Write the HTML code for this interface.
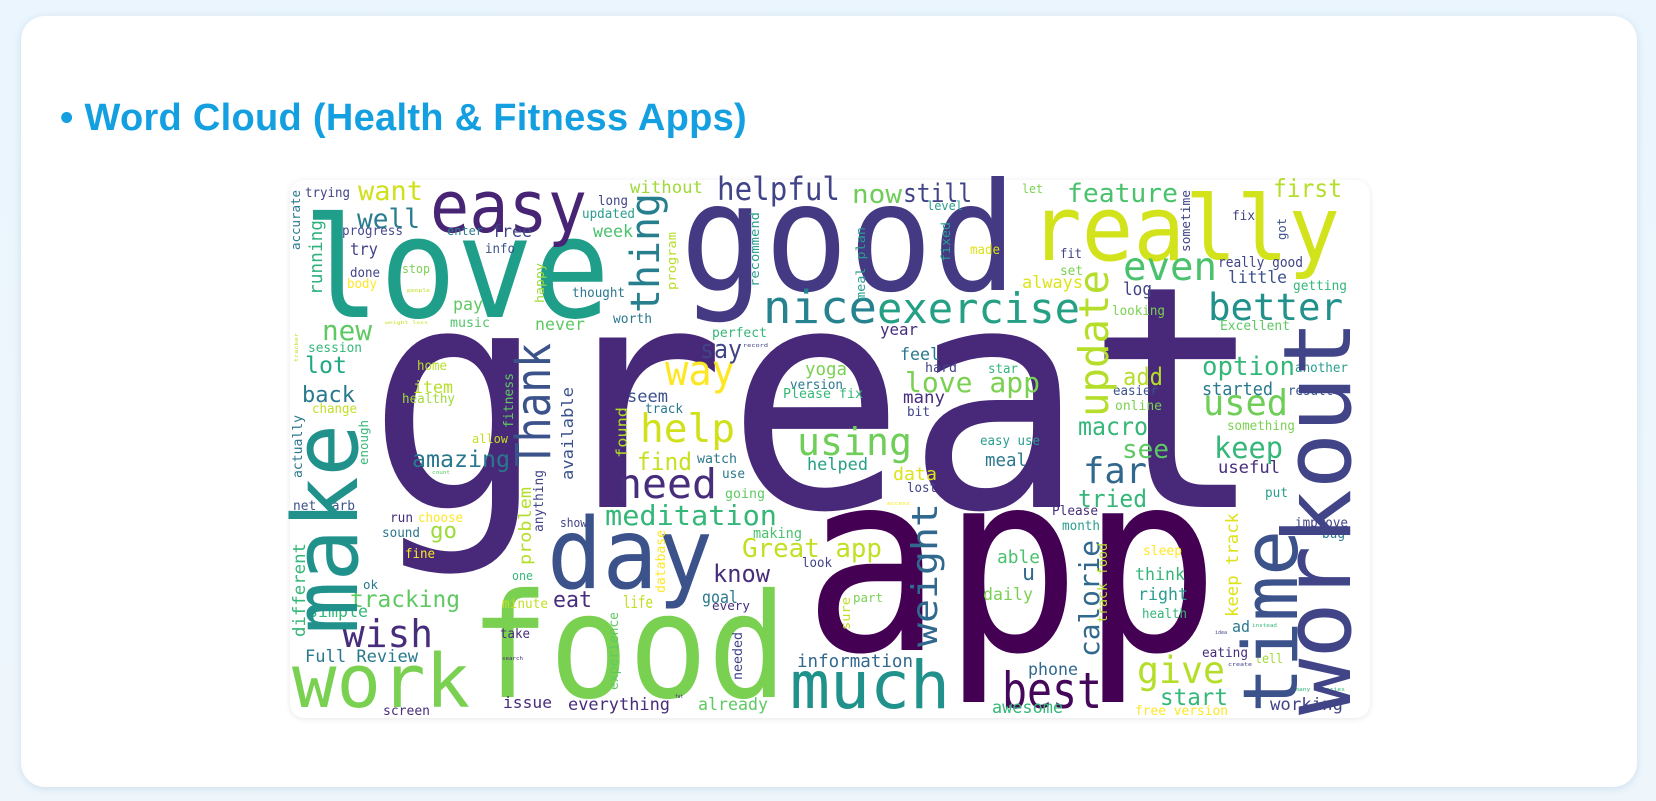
<!DOCTYPE html>
<html><head><meta charset="utf-8"><title>Word Cloud</title>
<style>
html,body{margin:0;padding:0;}
body{width:1656px;height:801px;overflow:hidden;background:linear-gradient(180deg,#eaf5fd 0%,#eef6fc 100%);font-family:"Liberation Sans",sans-serif;position:relative;}
.card{position:absolute;left:21px;top:16px;width:1616px;height:771px;background:#fff;border-radius:24px;box-shadow:0 2px 8px rgba(80,120,160,0.18);}
.title{position:absolute;left:60px;top:97px;font-size:38px;font-weight:bold;color:#14a0e0;white-space:nowrap;letter-spacing:0.3px;}
.wc{position:absolute;left:290px;top:180px;width:1080px;height:538px;background:#fff;border-radius:14px;box-shadow:0 1px 6px rgba(0,0,0,0.10);}
svg{position:absolute;left:0;top:0;}
</style></head>
<body>
<div class="card"></div>
<div class="title">• Word Cloud (Health &amp; Fitness Apps)</div>
<div class="wc"></div>
<svg id="cloud" width="1656" height="801" viewBox="0 0 1656 801"></svg>
<script>
// word, font size (weight)
const words = [
["great",310],["app",250],["love",140],["good",150],["really",90],["easy",72],["food",145],["work",74],["much",66],["day",98],["best",50],
["nice",45],["exercise",42],["helpful",32],["now",26],["still",26],["feature",26],["first",25],["even",39],["better",37],["option",26],["add",24],
["love app",28],["used",36],["macro",25],["started",18],["little",17],["always",17],["really good",14],["log",18],["see",26],["keep",29],["far",36],
["tried",24],["useful",17],["put",13],["Please",13],["month",13],["improve",13],["bug",13],["sleep",13],["think",17],["right",17],["health",13],
["ad",16],["instead",5],["idea",5],["eating",13],["tell",13],["create",5],["many calories",5],["give",37],["start",23],["free version",13],["working",17],
["awesome",17],["phone",17],["daily",17],["u",22],["able",18],["part",12],["information",18],
["amazing",23],["net carb",13],["run",13],["choose",13],["sound",13],["go",22],["fine",13],["one",12],["ok",12],["tracking",23],["simple",17],["eat",22],
["minute",13],["life",17],["goal",17],["every",12],["know",24],["wish",38],["take",13],["Full Review",17],["search",5],["issue",16],["everything",17],
["already",17],["screen",13],["fat",5],["count",5],["Great app",26],["meditation",28],["need",41],
["want",27],["well",27],["trying",13],["progress",13],["enter",12],["free",17],["info",13],["try",17],["done",13],["stop",12],["body",13],["people",5],
["thought",13],["pay",17],["new",28],["music",13],["weight loss",4],["never",17],["worth",13],["session",13],["lot",23],["back",22],["home",13],["item",17],
["healthy",13],["change",13],["allow",12],["long",13],["without",17],["updated",13],["week",17],["level",12],["let",12],["fix",13],["made",13],["fit",13],
["set",13],["getting",13],["looking",13],["Excellent",13],["another",13],["easier",13],["result",13],["online",13],["something",13],
["way",42],["say",26],["help",39],["find",24],["using",38],["helped",17],["yoga",18],["version",13],["Please fix",13],["feel",17],["year",16],["hard",13],
["star",13],["many",17],["bit",13],["easy use",13],["meal",18],["data",18],["lost",13],["access",5],["watch",13],["use",13],["going",13],["making",14],
["look",13],["show",12],["seem",17],["track",13],["perfect",13],["record",5],
["workout",94],["time",76],["make",90],["Thank",48],["thing",40],["update",41],["weight",36],["calorie",28],["running",18],["accurate",12],["happy",12],
["program",12],["recommend",12],["fitness",13],["found",15],["available",16],["actually",13],["enough",12],["fixed",12],["meal plan",12],["sometime",12],
["got",12],["tracker",5],["problem",17],["anything",13],["database",13],["experience",13],["needed",13],["sure",12],["track food",13],["keep track",17],["different",17]
];
// color per word (same order)
const colors = [
"#482878","#440154","#1f9e89","#443983","#d2e21b","#482475","#7ad151","#7ad151","#21918c","#3b528b","#45075a",
"#26828e","#25a085","#414487","#6ece58","#414487","#4ac16d","#b5de2b","#4ac16d","#21918c","#35b779","#b5de2b",
"#7ad151","#6ece58","#35b779","#2a788e","#3b528b","#dde318","#414487","#414487","#5ec962","#35b779","#31688e",
"#35b779","#472d7b","#2a9d8f","#472d7b","#2a9d8f","#414487","#2a788e","#fde725","#35b779","#2a9d8f","#35b779",
"#2a788e","#35b779","#414487","#472d7b","#a0da39","#414487","#35b779","#b5de2b","#35b779","#fde725","#414487",
"#35b779","#31688e","#7ad151","#31688e","#4ac16d","#7ad151","#31688e",
"#2a788e","#3b528b","#472d7b","#fde725","#2a788e","#a0da39","#fde725","#35b779","#2a788e","#5ec962","#35b779","#472d7b",
"#c2df23","#c2df23","#2a788e","#472d7b","#472d7b","#472d7b","#472d7b","#2a788e","#472d7b","#472d7b","#472d7b",
"#5ec962","#472d7b","#472d7b","#5ec962","#c2df23","#35b779","#472d7b",
"#d0e11c","#287d8e","#414487","#4a4a90","#2a788e","#414487","#3b528b","#414487","#414487","#7ad151","#fde725","#c2df23",
"#2a788e","#5ec962","#5ec962","#52c569","#c8e020","#5ec962","#2a788e","#35b779","#22a884","#2a788e","#b8de29","#b8de29",
"#a0da39","#c2df23","#c2df23","#414487","#a0da39","#2a9d8f","#4ac16d","#2a9d8f","#7ad151","#414487","#dde318","#414487",
"#7ad151","#35b779","#7ad151","#5ec962","#2a9d8f","#3b528b","#3b528b","#7ad151","#7ad151",
"#fde725","#414487","#d0e11c","#c8e020","#6ece58","#25a085","#7ad151","#2a788e","#35b779","#2a788e","#472d7b","#414487",
"#35b779","#472d7b","#414487","#2a9d8f","#2a788e","#dde318","#414487","#fde725","#2a788e","#2a788e","#5ec962","#4ac16d",
"#414487","#414487","#3b528b","#2a788e","#35b779","#414487",
"#414487","#3b528b","#21918c","#3b528b","#277f8e","#b5de2b","#31688e","#31688e","#2db27d","#2a788e","#a0da39",
"#b8de29","#2a9d8f","#5ec962","#b5de2b","#3b528b","#2a788e","#35b779","#2a9d8f","#2a9d8f","#414487",
"#3b528b","#c2df23","#b5de2b","#414487","#fde725","#5ec962","#414487","#c2df23","#b5de2b","#dde318","#35b779"
];
// layout per word: [x, baseline y, text length, rotation]
const layout = [
[367,507,898,0],[803,650,417,0],[303,317,307,0],[680,290,337,0],[1030,260,310,0],[430,232,157,0],[470,697,317,0],[292,707,178,0],[790,708,160,0],[547,588,166,0],[1002,708,100,0],
[763,323,114,0],[877,323,203,0],[717,200,123,0],[852,203,50,0],[903,202,69,0],[1067,202,111,0],[1273,197,69,0],[1123,280,94,0],[1208,320,135,0],[1202,375,93,0],[1123,385,40,0],
[905,392,135,0],[1203,415,85,0],[1078,435,70,0],[1202,395,71,0],[1228,283,59,0],[1022,288,61,0],[1218,267,85,0],[1123,295,29,0],[1122,458,47,0],[1214,458,69,0],[1083,483,64,0],
[1078,507,69,0],[1218,473,62,0],[1265,497,23,0],[1052,515,46,0],[1062,530,38,0],[1295,527,53,0],[1322,538,23,0],[1143,555,39,0],[1135,580,50,0],[1138,600,50,0],[1142,618,45,0],
[1232,632,18,0],[1252,627,25,0],[1215,634,12,0],[1202,657,46,0],[1255,663,28,0],[1228,666,24,0],[1295,691,50,0],[1137,683,88,0],[1160,705,68,0],[1135,715,93,0],[1270,710,73,0],
[992,713,71,0],[1028,675,50,0],[983,600,50,0],[1022,580,13,0],[997,563,43,0],[853,602,30,0],[797,667,116,0],
[412,467,98,0],[293,510,62,0],[390,522,23,0],[418,522,45,0],[382,537,38,0],[430,538,27,0],[405,558,30,0],[512,580,21,0],[363,589,15,0],[350,607,110,0],[308,617,60,0],[553,607,39,0],
[502,608,46,0],[623,608,30,0],[702,603,36,0],[712,610,38,0],[713,582,57,0],[342,647,91,0],[500,638,30,0],[305,662,113,0],[502,660,21,0],[503,708,49,0],[568,710,102,0],
[698,710,70,0],[383,715,47,0],[675,698,8,0],[432,474,18,0],[742,557,140,0],[605,525,172,0],[617,498,100,0],
[358,200,65,0],[357,228,63,0],[305,197,45,0],[342,235,61,0],[447,235,36,0],[492,237,40,0],[485,253,30,0],[350,255,28,0],[350,277,30,0],[402,273,28,0],[347,288,30,0],[407,292,23,0],
[572,297,53,0],[453,310,30,0],[322,340,50,0],[450,327,40,0],[385,324,43,0],[535,330,50,0],[613,323,39,0],[308,352,54,0],[305,373,42,0],[302,402,53,0],[417,370,30,0],[413,393,40,0],
[402,403,53,0],[312,413,45,0],[472,443,36,0],[598,205,30,0],[630,193,73,0],[582,218,53,0],[593,237,40,0],[927,210,36,0],[1022,193,21,0],[1232,220,23,0],[970,254,30,0],[1060,258,22,0],
[1060,275,23,0],[1293,290,54,0],[1112,315,53,0],[1220,330,70,0],[1295,372,53,0],[1113,395,45,0],[1288,395,45,0],[1115,410,47,0],[1227,430,68,0],
[665,385,70,0],[700,358,42,0],[640,442,95,0],[637,470,55,0],[797,455,115,0],[807,470,61,0],[805,375,42,0],[790,389,53,0],[783,398,80,0],[900,360,40,0],[880,335,38,0],[925,372,32,0],
[988,373,30,0],[903,403,42,0],[907,416,23,0],[980,445,60,0],[985,466,42,0],[893,480,44,0],[907,492,30,0],[887,505,23,0],[697,463,40,0],[722,478,23,0],[725,498,40,0],[753,538,49,0],
[802,567,30,0],[560,527,27,0],[627,402,41,0],[645,413,38,0],[712,337,55,0],[743,347,25,0],
[1350,715,395,1],[1297,713,183,1],[357,634,210,1],[550,467,124,1],[659,313,120,1],[1108,417,147,1],[937,647,144,1],[1099,657,117,1],[322,295,75,1],[300,250,60,1],[544,303,40,1],
[676,290,58,1],[759,287,75,1],[513,428,55,1],[627,458,51,1],[573,480,93,1],[302,478,63,1],[368,465,45,1],[950,262,40,1],[865,300,73,1],[1190,252,62,1],
[1286,240,22,1],[298,362,29,1],[531,565,78,1],[543,532,62,1],[665,593,63,1],[618,690,78,1],[742,680,48,1],[850,630,33,1],[1107,623,80,1],[1238,617,104,1],[305,637,94,1]
];
const svg = document.getElementById('cloud');
const NS = 'http://www.w3.org/2000/svg';
const n = Math.min(words.length, colors.length, layout.length);
for (let i = 0; i < n; i++) {
  const [txt, size] = words[i];
  const [x, y, len, rot] = layout[i];
  const t = document.createElementNS(NS, 'text');
  t.textContent = txt;
  t.setAttribute('font-family', '"DejaVu Sans Mono", "Liberation Mono", monospace');
  t.setAttribute('font-size', size);
  t.setAttribute('fill', colors[i]);
  t.setAttribute('textLength', len);
  t.setAttribute('lengthAdjust', 'spacingAndGlyphs');
  if (rot) {
    t.setAttribute('x', 0);
    t.setAttribute('y', 0);
    t.setAttribute('transform', 'translate(' + x + ',' + y + ') rotate(-90)');
  } else {
    t.setAttribute('x', x);
    t.setAttribute('y', y);
  }
  
  
  svg.appendChild(t);
}
</script>
</body></html>
